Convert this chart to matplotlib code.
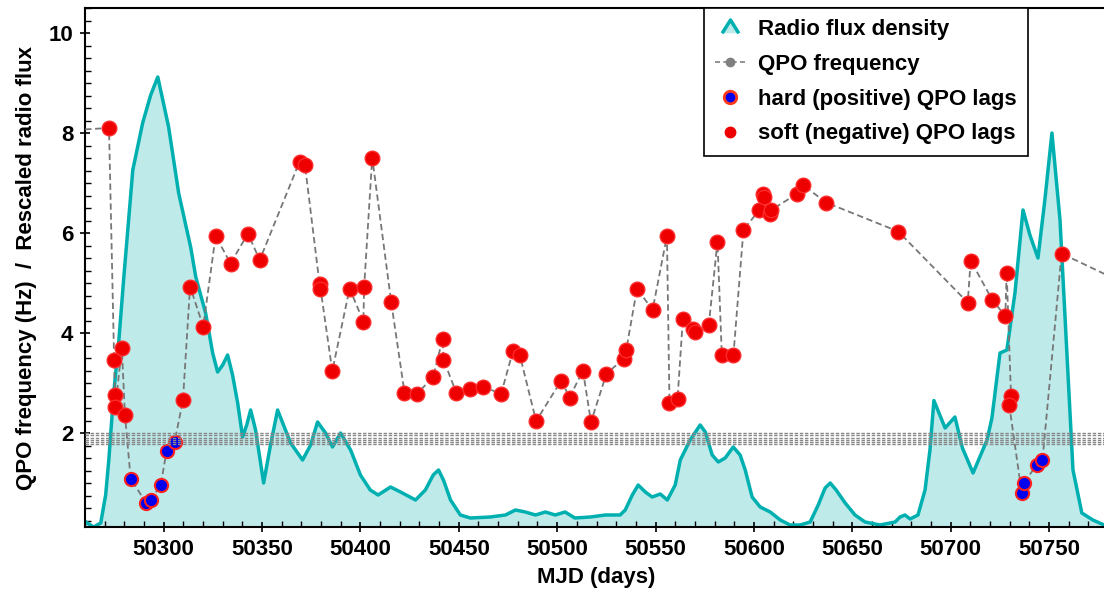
import matplotlib
matplotlib.use('Agg')
import matplotlib.pyplot as plt
from matplotlib.lines import Line2D
from matplotlib.path import Path
from matplotlib.ticker import MultipleLocator

# Rescaled radio flux density curve
radio_mjd = [
    50260.4, 50264.4, 50268.0, 50270.5, 50272.1, 50274.6, 50277.1, 50279.7, 50284.3, 50289.3,
    50293.4, 50297.0, 50302.5, 50307.6, 50311.2, 50313.7, 50316.3, 50321.3, 50324.9, 50327.4,
    50330.0, 50332.5, 50335.0, 50337.6, 50340.1, 50342.2, 50344.2, 50346.7, 50350.8, 50354.3,
    50357.9, 50360.9, 50364.5, 50370.6, 50374.7, 50378.2, 50382.3, 50385.8, 50389.9, 50395.0,
    50400.0, 50405.0, 50409.0, 50415.3, 50420.4, 50428.0, 50433.0, 50437.0, 50439.7, 50442.2,
    50445.8, 50450.8, 50455.9, 50466.0, 50473.7, 50478.8, 50483.8, 50489.0, 50494.0, 50499.0,
    50504.0, 50509.0, 50516.9, 50524.5, 50532.0, 50534.6, 50538.2, 50541.2, 50544.8, 50548.3,
    50552.4, 50556.0, 50560.0, 50562.6, 50567.6, 50572.7, 50575.3, 50578.8, 50581.9, 50585.4,
    50589.5, 50593.0, 50595.6, 50599.1, 50603.2, 50608.3, 50613.4, 50618.4, 50623.5, 50628.6,
    50632.7, 50636.2, 50638.8, 50641.8, 50646.4, 50651.4, 50656.5, 50664.1, 50671.8, 50674.3,
    50676.8, 50679.4, 50683.4, 50687.0, 50689.5, 50691.5, 50697.2, 50702.2, 50706.0, 50711.4,
    50718.5, 50721.0, 50725.1, 50728.6, 50732.7, 50736.8, 50740.3, 50744.4, 50747.9, 50751.5,
    50755.6, 50759.1, 50762.2, 50766.7, 50772.3, 50778.0, 50785.0,
]
radio_flux = [
    0.22, 0.12, 0.20, 0.76, 1.46, 2.80, 3.80, 5.10, 7.26, 8.20,
    8.76, 9.12, 8.12, 6.80, 6.16, 5.72, 5.12, 4.40, 3.60, 3.22,
    3.36, 3.56, 3.16, 2.60, 1.92, 2.16, 2.46, 2.06, 1.00, 1.76,
    2.46, 2.16, 1.80, 1.46, 1.76, 2.22, 2.00, 1.72, 2.00, 1.66,
    1.16, 0.86, 0.76, 0.92, 0.82, 0.66, 0.86, 1.16, 1.26, 1.06,
    0.66, 0.36, 0.30, 0.32, 0.36, 0.46, 0.42, 0.36, 0.42, 0.36,
    0.42, 0.30, 0.32, 0.36, 0.36, 0.46, 0.76, 0.96, 0.82, 0.72,
    0.78, 0.66, 0.96, 1.46, 1.86, 2.16, 2.02, 1.56, 1.42, 1.50,
    1.72, 1.56, 1.26, 0.72, 0.52, 0.42, 0.26, 0.16, 0.16, 0.22,
    0.56, 0.90, 1.00, 0.86, 0.60, 0.36, 0.22, 0.16, 0.22, 0.32,
    0.36, 0.28, 0.36, 0.86, 1.66, 2.65, 2.10, 2.32, 1.70, 1.20,
    1.86, 2.30, 3.60, 3.66, 4.80, 6.46, 5.96, 5.50, 6.66, 8.00,
    6.26, 3.60, 1.26, 0.40, 0.26, 0.16, 0.12,
]

# QPO frequencies, in observation order (first/last lie outside the window)
qpo_mjd = [
    50250.0, 50272.2, 50274.8, 50275.2, 50275.5, 50278.7, 50280.3, 50283.2, 50290.9, 50293.4,
    50298.5, 50301.5, 50305.6, 50309.8, 50313.4, 50320.1, 50326.4, 50334.0, 50342.8, 50348.8,
    50369.1, 50371.8, 50379.2, 50379.7, 50385.7, 50394.5, 50401.5, 50401.9, 50406.0, 50415.6,
    50422.4, 50428.8, 50437.0, 50441.8, 50442.2, 50448.7, 50455.9, 50462.4, 50471.5, 50477.6,
    50481.0, 50489.3, 50502.1, 50506.3, 50513.1, 50517.2, 50525.0, 50533.8, 50535.1, 50540.6,
    50548.5, 50555.8, 50557.1, 50561.2, 50563.9, 50569.3, 50570.2, 50577.1, 50581.5, 50583.7,
    50589.6, 50594.7, 50602.7, 50604.4, 50604.9, 50608.4, 50608.8, 50621.8, 50624.9, 50636.7,
    50673.4, 50708.7, 50710.2, 50721.2, 50727.8, 50728.5, 50730.7, 50729.8, 50736.1, 50737.4,
    50743.7, 50746.7, 50756.4, 50790.0,
]
qpo_freq = [
    8.05, 8.10, 3.46, 2.76, 2.53, 3.71, 2.37, 1.09, 0.61, 0.66,
    0.96, 1.65, 1.83, 2.66, 4.93, 4.13, 5.94, 5.39, 5.99, 5.46,
    7.43, 7.36, 4.99, 4.89, 3.24, 4.89, 4.23, 4.93, 7.51, 4.63,
    2.81, 2.78, 3.13, 3.88, 3.47, 2.81, 2.89, 2.93, 2.78, 3.65,
    3.56, 2.24, 3.05, 2.71, 3.25, 2.22, 3.18, 3.49, 3.66, 4.89,
    4.46, 5.94, 2.61, 2.69, 4.28, 4.09, 4.03, 4.17, 5.83, 3.56,
    3.56, 6.06, 6.46, 6.79, 6.73, 6.39, 6.46, 6.78, 6.96, 6.61,
    6.03, 4.61, 5.45, 4.66, 4.34, 5.21, 2.74, 2.56, 0.81, 1.01,
    1.36, 1.46, 5.59, 4.96,
]
# S = soft (negative) lag, H = hard (positive) lag
qpo_lag = [
    'S', 'S', 'S', 'S', 'S', 'S', 'S', 'H', 'H', 'H',
    'H', 'H', 'H', 'S', 'S', 'S', 'S', 'S', 'S', 'S',
    'S', 'S', 'S', 'S', 'S', 'S', 'S', 'S', 'S', 'S',
    'S', 'S', 'S', 'S', 'S', 'S', 'S', 'S', 'S', 'S',
    'S', 'S', 'S', 'S', 'S', 'S', 'S', 'S', 'S', 'S',
    'S', 'S', 'S', 'S', 'S', 'S', 'S', 'S', 'S', 'S',
    'S', 'S', 'S', 'S', 'S', 'S', 'S', 'S', 'S', 'S',
    'S', 'S', 'S', 'S', 'S', 'S', 'S', 'S', 'H', 'H',
    'H', 'H', 'S', 'S',
]

# horizontal reference levels drawn as dashed lines
threshold_levels = [2.00, 1.96, 1.91, 1.87, 1.82, 1.78]

line_col = '#00b0b0'
fill_col = '#bfeaea'
soft_col = '#ee0000'
hard_col = '#0000ee'

plt.rcParams['font.family'] = ['Liberation Sans', 'DejaVu Sans']
plt.rcParams['font.weight'] = 'bold'
plt.rcParams['axes.labelweight'] = 'bold'
fs = 16

fig = plt.figure(figsize=(11.04, 6), dpi=100)
ax = fig.add_axes([85 / 1104, 73 / 600, 1023 / 1104, 519 / 600])

ax.fill_between(radio_mjd, radio_flux, 0, color=fill_col, lw=0, zorder=1)
ax.plot(radio_mjd, radio_flux, color=line_col, lw=2.5, zorder=2)

ax.plot(qpo_mjd, qpo_freq, color='#777777', lw=1.3, ls=(0, (3.5, 2)), zorder=3)

soft_x = [m for m, l in zip(qpo_mjd, qpo_lag) if l == 'S']
soft_y = [f for f, l in zip(qpo_freq, qpo_lag) if l == 'S']
hard_x = [m for m, l in zip(qpo_mjd, qpo_lag) if l == 'H']
hard_y = [f for f, l in zip(qpo_freq, qpo_lag) if l == 'H']
ax.plot(soft_x, soft_y, ls='none', marker='o', ms=10.5, mfc=soft_col,
        mec='#ff2a2a', mew=1, zorder=4)
ax.plot(hard_x, hard_y, ls='none', marker='o', ms=9.5, mfc=hard_col,
        mec='#ff2020', mew=1.5, zorder=4)

for lvl in threshold_levels:
    ax.axhline(lvl, color='#888888', lw=1.0, ls=(0, (2.5, 1.2)), zorder=5)

ax.set_xlim(50260, 50780)
ax.set_ylim(0.12, 10.5)
ax.xaxis.set_major_locator(MultipleLocator(50))
ax.xaxis.set_minor_locator(MultipleLocator(10))
ax.yaxis.set_major_locator(MultipleLocator(2))
ax.yaxis.set_minor_locator(MultipleLocator(0.25))
ax.tick_params(which='major', direction='inout', length=7, width=1.2,
               labelsize=fs, pad=5)
ax.tick_params(which='minor', direction='in', length=4, width=1.0)
for sp in ax.spines.values():
    sp.set_linewidth(1.5)

ax.set_xlabel('MJD (days)', fontsize=fs, labelpad=5)
ax.set_ylabel('QPO frequency (Hz)  /  Rescaled radio flux', fontsize=fs, labelpad=8)

# legend proxies
peak = Path([(-1, -0.7), (0, 0.9), (1, -0.7)], [Path.MOVETO, Path.LINETO, Path.LINETO])
handles = [
    Line2D([], [], ls='none', marker=peak, ms=12, mfc=fill_col, mec=line_col, mew=2.5),
    Line2D([], [], color='#808080', lw=1.2, ls=(0, (3, 2)), marker='o', ms=6,
           mfc='#808080', mec='#808080'),
    Line2D([], [], ls='none', marker='o', ms=9, mfc=hard_col, mec='#ff3a1a', mew=2),
    Line2D([], [], ls='none', marker='o', ms=7.5, mfc=soft_col, mec=soft_col),
]
labels = ['Radio flux density', 'QPO frequency',
          'hard (positive) QPO lags', 'soft (negative) QPO lags']
leg = ax.legend(handles, labels, loc='upper right', bbox_to_anchor=(943 / 1023, 1.0),
                borderaxespad=0, fancybox=False, framealpha=1, edgecolor='black',
                fontsize=fs, handlelength=1.4, handletextpad=0.55,
                labelspacing=0.62, borderpad=0.5)
leg.get_frame().set_linewidth(1.2)

fig.savefig('out.png', dpi=100)
